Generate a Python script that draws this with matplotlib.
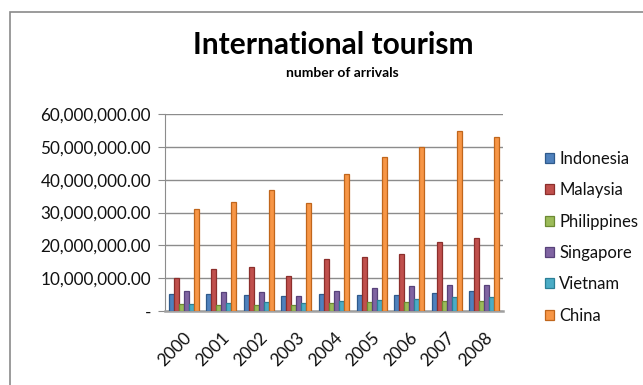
import matplotlib
matplotlib.use("Agg")
import matplotlib.pyplot as plt
import matplotlib.patches as mpatches
import numpy as np
from matplotlib.ticker import FuncFormatter

plt.rcParams['font.family'] = ['Lato', 'DejaVu Sans']

years = ['2000', '2001', '2002', '2003', '2004', '2005', '2006', '2007', '2008']
countries = ['Indonesia', 'Malaysia', 'Philippines', 'Singapore', 'Vietnam', 'China']

# arrivals per year, in millions
indonesia = [5.1, 5.2, 5.0, 4.5, 5.3, 5.0, 4.9, 5.5, 6.2]
malaysia = [10.2, 12.8, 13.3, 10.6, 15.7, 16.4, 17.5, 21.0, 22.1]
philippines = [2.0, 1.8, 1.9, 1.9, 2.3, 2.6, 2.8, 3.1, 3.1]
singapore = [6.1, 5.8, 5.8, 4.7, 6.2, 7.1, 7.6, 8.0, 7.8]
vietnam = [2.1, 2.3, 2.6, 2.4, 2.9, 3.5, 3.6, 4.2, 4.3]
china = [31.2, 33.2, 36.8, 33.0, 41.8, 46.8, 49.9, 54.7, 53.0]

series = [indonesia, malaysia, philippines, singapore, vietnam, china]
colors = ['#4F81BD', '#C0504D', '#9BBB59', '#8064A2', '#4BACC6', '#F79646']
edges = ['#2f5a8c', '#8c2f2c', '#6c8a33', '#58427a', '#2b7f96', '#c0661c']

fig = plt.figure(figsize=(6.43, 3.85), dpi=100)

# chart frame
fig.patches.append(mpatches.Rectangle((10 / 643, -0.1), 1.2, 1 - 12 / 385 + 0.1,
                                      transform=fig.transFigure, fill=False,
                                      edgecolor='#8a8a8a', lw=1.2))

ax = fig.add_axes([165 / 643, 1 - 311 / 385, 338 / 643, 197 / 385])

x = np.arange(len(years))
w = 0.8 / len(series)
for i, (vals, c, ec) in enumerate(zip(series, colors, edges)):
    pos = x - 0.4 + w * (i + 0.5)
    ax.bar(pos, np.array(vals) * 1e6, width=w, color=c, edgecolor=ec,
           linewidth=0.9, label=countries[i], zorder=3)

ax.set_xlim(-0.5, len(years) - 0.5)
ax.set_ylim(0, 60e6)
ax.set_yticks(np.arange(0, 60e6 + 1, 10e6))
ax.yaxis.set_major_formatter(FuncFormatter(
    lambda v, p: '-' if v == 0 else f'{v:,.2f}'))
ax.grid(axis='y', color='#8c8c8c', lw=1, zorder=0)
for s in ['top', 'right']:
    ax.spines[s].set_visible(False)
ax.spines['left'].set_color('#8c8c8c')
ax.spines['bottom'].set_color('#a0a0a0')
ax.spines['bottom'].set_linewidth(1.8)
ax.tick_params(axis='y', length=5, color='#8c8c8c', pad=5, labelsize=12.3,
               labelcolor='#111111')
ax.set_xticks(x)
ax.set_xticklabels(years, rotation=45, ha='right', rotation_mode='anchor',
                   fontsize=12.5, color='#111111')
ax.tick_params(axis='x', length=0, pad=13)

fig.text(333 / 643, 1 - 45 / 385, 'International tourism', ha='center',
         va='center', fontsize=21.5, fontweight='bold')
fig.text(342 / 643, 1 - 73 / 385, 'number of arrivals', ha='center',
         va='center', fontsize=10, fontweight='bold')

fig.legend(loc='upper left', bbox_to_anchor=(545 / 643, 1 - 151 / 385),
           frameon=False, fontsize=12, handlelength=0.55, handleheight=0.55,
           handletextpad=0.3, labelspacing=0.92, borderaxespad=0,
           borderpad=0, labelcolor='#111111')

fig.savefig('out.png', dpi=100)
